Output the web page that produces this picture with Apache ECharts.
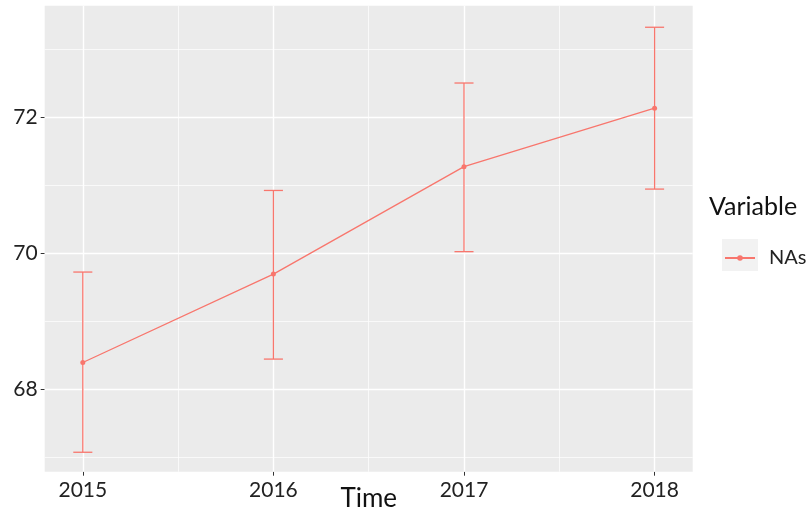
<!DOCTYPE html>
<html><head><meta charset="utf-8">
<script src="https://cdn.jsdelivr.net/npm/echarts@6/dist/echarts.min.js"></script>
<style>html,body{margin:0;padding:0;background:#fff}#c{width:808px;height:517px}</style>
</head><body><div id="c"></div>
<script>
const years = [2015, 2016, 2017, 2018];
const means = [68.40, 69.70, 71.28, 72.14];
const lows  = [67.08, 68.45, 70.03, 70.95];
const highs = [69.73, 70.93, 72.51, 73.33];
const xTicks = [2015, 2016, 2017, 2018];
const xMinor = [2015.5, 2016.5, 2017.5];
const yTicks = [68, 70, 72];
const yMinor = [67, 69, 71, 73];
const seriesName = 'NAs';
const legendTitle = 'Variable';
const xTitle = 'Time';

const FONT = "Lato, 'Open Sans', sans-serif";
const RED = '#F8766D';

const chart = echarts.init(document.getElementById('c'), null, {renderer: 'canvas'});

const gridLines = [];
xTicks.forEach(v => gridLines.push({xAxis: v, lineStyle: {width: 1.4}}));
xMinor.forEach(v => gridLines.push({xAxis: v, lineStyle: {width: 0.7}}));
yTicks.forEach(v => gridLines.push({yAxis: v, lineStyle: {width: 1.4}}));
yMinor.forEach(v => gridLines.push({yAxis: v, lineStyle: {width: 0.7}}));

chart.setOption({
  animation: false,
  textStyle: {fontFamily: FONT},
  grid: {left: 44.7, top: 5.7, right: 115.3, bottom: 45.3, show: true,
         backgroundColor: '#EBEBEB', borderWidth: 0, containLabel: false,
         outerBoundsMode: 'none'},
  xAxis: {
    type: 'value', min: 2014.8, max: 2018.2,
    name: xTitle, nameLocation: 'middle', nameGap: 14, nameMoveOverlap: false,
    nameTextStyle: {fontSize: 26, color: '#111', fontFamily: FONT, verticalAlign: 'top'},
    axisLine: {show: false},
    axisTick: {show: true, length: 4, customValues: xTicks, lineStyle: {color: '#333', width: 1}},
    axisLabel: {customValues: xTicks, fontSize: 21, color: '#222', margin: 8, fontFamily: FONT,
                formatter: v => String(Math.round(v))},
    splitLine: {show: false}
  },
  yAxis: {
    type: 'value', min: 66.794, max: 73.647,
    axisLine: {show: false},
    axisTick: {show: true, length: 4, customValues: yTicks, lineStyle: {color: '#333', width: 1}},
    axisLabel: {customValues: yTicks, fontSize: 21, color: '#222', margin: 7, fontFamily: FONT,
                formatter: v => String(Math.round(v))},
    splitLine: {show: false}
  },
  legend: {
    show: true, data: [seriesName], left: 719, top: 243, orient: 'vertical',
    itemWidth: 30, itemHeight: 7, itemGap: 4,
    lineStyle: {width: 2},
    textStyle: {fontSize: 20, color: '#222', fontFamily: FONT, padding: [0, 0, 0, 9]}
  },
  graphic: [
    {type: 'rect', left: 722, top: 239, shape: {width: 36, height: 32}, style: {fill: '#F2F2F2'}, z: 0},
    {type: 'text', left: 709, top: 194, style: {text: legendTitle, fontSize: 25, fill: '#111', fontFamily: FONT}}
  ],
  series: [
    {
      type: 'line', name: '__grid', data: [], silent: true, z: 1,
      markLine: {silent: true, symbol: 'none', label: {show: false},
                 lineStyle: {color: '#FFFFFF', type: 'solid'}, data: gridLines}
    },
    {
      type: 'custom', name: '__err', z: 10, silent: true,
      data: years.map((y, i) => [y, lows[i], highs[i]]),
      renderItem: function (params, api) {
        const x = api.value(0);
        const lo = api.coord([x, api.value(1)]);
        const hi = api.coord([x, api.value(2)]);
        const w = api.size([0.05, 0])[0];
        const st = {stroke: RED, lineWidth: 1.3};
        return {type: 'group', children: [
          {type: 'line', shape: {x1: lo[0], y1: lo[1], x2: hi[0], y2: hi[1]}, style: st},
          {type: 'line', shape: {x1: lo[0] - w, y1: lo[1], x2: lo[0] + w, y2: lo[1]}, style: st},
          {type: 'line', shape: {x1: hi[0] - w, y1: hi[1], x2: hi[0] + w, y2: hi[1]}, style: st}
        ]};
      }
    },
    {
      type: 'line', name: seriesName, z: 11,
      data: years.map((y, i) => [y, means[i]]),
      symbol: 'circle', symbolSize: 5, showSymbol: true,
      itemStyle: {color: RED}, lineStyle: {color: RED, width: 1.3}
    }
  ]
});
</script></body></html>
